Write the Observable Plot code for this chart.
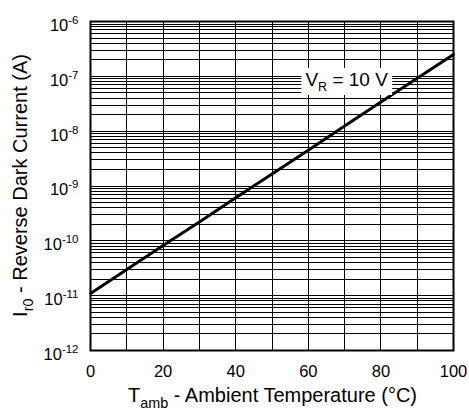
<!DOCTYPE html>
<html><head><meta charset="utf-8">
<script src="https://cdn.jsdelivr.net/npm/d3@7"></script>
<script src="https://cdn.jsdelivr.net/npm/@observablehq/plot@0.6"></script>
<style>
body{margin:0;background:#fff}
svg{font-family:"Liberation Sans",Arial,Helvetica,sans-serif}
</style>
</head><body><div id="chart"></div>
<script>
// Data
const temps   = [0, 10, 20, 30, 40, 50, 60, 70, 80, 90, 100];
const current = [1.1e-11, 3.0e-11, 8.2e-11, 2.2e-10, 6.1e-10, 1.66e-9, 4.5e-9, 1.24e-8, 3.4e-8, 9.2e-8, 2.5e-7];
const xTicks = [0, 20, 40, 60, 80, 100];
const xGrid = [10, 20, 30, 40, 50, 60, 70, 80, 90];
const yExponents = [-12, -11, -10, -9, -8, -7, -6];
const seriesLabel = {main: "V", sub: "R", rest: " = 10 V", t: 59.2, i: 8.6e-8};
const xTitle = {main: "T", sub: "amb", rest: " - Ambient Temperature (°C)"};
const yTitle = {main: "I", sub: "r0", rest: " - Reverse Dark Current (A)"};

const W = 469, H = 410;
const mL = 90, mR = 16, mT = 21, mB = 60;
const data = temps.map((t, k) => ({t, i: current[k]}));
const yTicks = yExponents.map(e => Number("1e" + e));
const minor = [];
for (let e = -12; e < -6; e++) for (let k = 1; k < 10; k++) minor.push(Number(k + "e" + e));
const LABEL_KEY = seriesLabel.main + "|" + seriesLabel.sub + "|" + seriesLabel.rest;

const chart = Plot.plot({
  width: W, height: H,
  marginLeft: mL, marginRight: mR, marginTop: mT, marginBottom: mB,
  style: {fontFamily: '"Liberation Sans",Arial,sans-serif', fontSize: "16.5px", background: "#fff", color: "#000"},
  x: {domain: [0, 100]},
  y: {type: "log", domain: [1e-12, 1e-6]},
  marks: [
    Plot.ruleY(minor, {stroke: "#000", strokeWidth: 1, shapeRendering: "crispEdges"}),
    Plot.ruleX(xGrid, {stroke: "#000", strokeWidth: 1, shapeRendering: "crispEdges"}),
    Plot.line(data, {x: "t", y: "i", stroke: "#000", strokeWidth: 3}),
    Plot.frame({stroke: "#000", strokeWidth: 2}),
    Plot.axisX({ticks: xTicks, tickSize: 0, tickPadding: 15, label: null, fontSize: 16.5}),
    Plot.axisY({ticks: yTicks, tickSize: 0, tickPadding: 12, label: null, fontSize: 16.5,
      tickFormat: d => "10^" + Math.round(Math.log10(d))}),
    Plot.text([seriesLabel], {x: "t", y: "i", text: () => LABEL_KEY, textAnchor: "start",
      fontSize: 19, fill: "#000"})
  ]
});
document.getElementById("chart").append(chart);
const svg = d3.select(chart);

// superscript exponents on y tick labels
svg.selectAll('g[aria-label="y-axis tick label"] text').each(function() {
  const s = this.textContent;
  const ex = s.split("^")[1];
  const t = d3.select(this);
  t.attr("dy", "0.25em");
  t.text(null);
  t.append("tspan").text("10");
  t.append("tspan").attr("font-size", 11.5).attr("dy", "-7").text(ex);
});

// series label with subscript and white background
const lab = svg.selectAll("text").filter(function() { return this.textContent === LABEL_KEY; });
if (!lab.empty()) {
  lab.text(null);
  lab.append("tspan").text(seriesLabel.main);
  lab.append("tspan").attr("font-size", 12.5).attr("dy", 5).text(seriesLabel.sub);
  lab.append("tspan").attr("font-size", 19).attr("dy", -5).text(seriesLabel.rest);
  const node = lab.node();
  const bb = node.getBBox();
  d3.select(node.parentNode).insert("rect", () => node)
    .attr("x", bb.x - 4).attr("y", bb.y - 1).attr("width", bb.width + 8).attr("height", bb.height + 2)
    .attr("fill", "#fff")
    .attr("transform", lab.attr("transform"));
}

// axis titles with subscripts
function title(sel, o, fs) {
  sel.append("tspan").text(o.main);
  sel.append("tspan").attr("font-size", fs * 0.72).attr("dy", fs * 0.3).text(o.sub);
  sel.append("tspan").attr("font-size", fs).attr("dy", -fs * 0.3).text(o.rest);
}
const cx = mL + (W - mL - mR) / 2, cy = mT + (H - mT - mB) / 2;
const xt = svg.append("text").attr("x", cx + 1).attr("y", 402).attr("text-anchor", "middle")
  .attr("font-size", 20).attr("fill", "#000");
title(xt, xTitle, 20);
const yt = svg.append("text").attr("transform", `translate(27,${cy}) rotate(-90)`).attr("text-anchor", "middle")
  .attr("font-size", 20).attr("fill", "#000");
title(yt, yTitle, 20);
</script>
</body></html>
